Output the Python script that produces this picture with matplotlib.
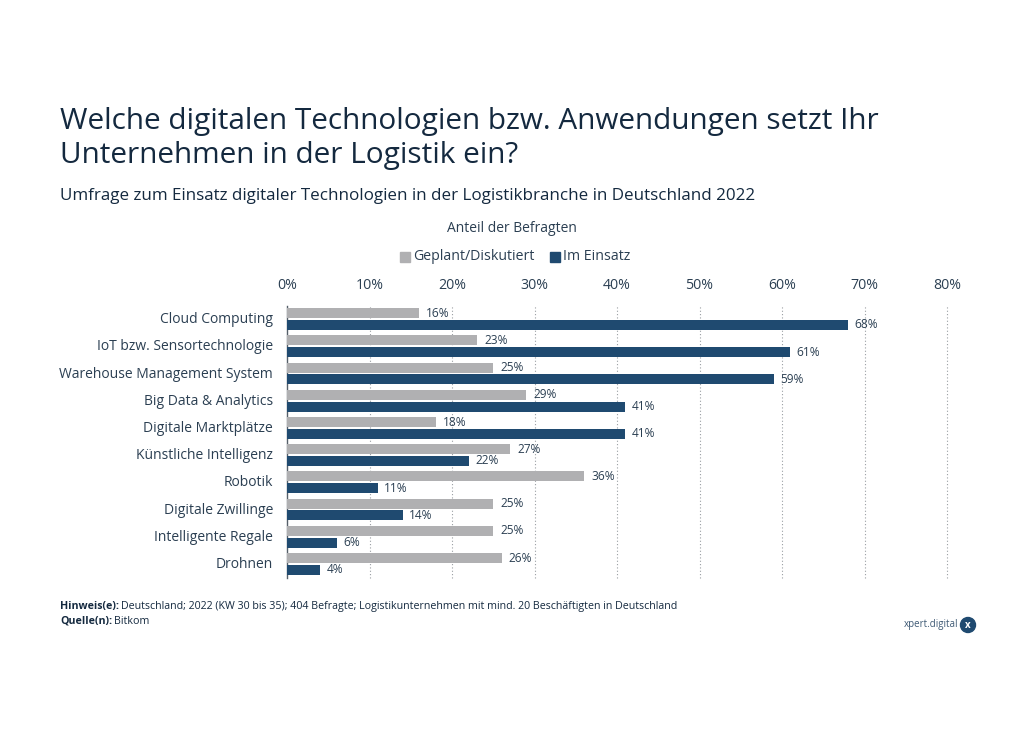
import matplotlib
matplotlib.use('Agg')
import matplotlib.pyplot as plt
from matplotlib.patches import Circle, Rectangle
from matplotlib.transforms import ScaledTranslation

plt.rcParams['font.family'] = ['Open Sans', 'DejaVu Sans']

categories = ['Cloud Computing', 'IoT bzw. Sensortechnologie', 'Warehouse Management System',
              'Big Data & Analytics', 'Digitale Marktplätze', 'Künstliche Intelligenz',
              'Robotik', 'Digitale Zwillinge', 'Intelligente Regale', 'Drohnen']
geplant = [16, 23, 25, 29, 18, 27, 36, 25, 25, 26]
im_einsatz = [68, 61, 59, 41, 41, 22, 11, 14, 6, 4]
xticks = [0, 10, 20, 30, 40, 50, 60, 70, 80]

W, H = 1024, 730
GRAY = '#b0b0b2'
NAVY = '#1f4a70'
DARK = '#14293f'
TEXT = '#2b3f52'

fig = plt.figure(figsize=(W / 100, H / 100), dpi=100, facecolor='white')
ax = fig.add_axes([287 / W, 1 - 577.5 / H, 660 / W, 272 / H])

ys = list(range(len(categories)))
off = 0.215
h = 0.365
ax.barh([y - off for y in ys], geplant, height=h, color=GRAY, zorder=3)
ax.barh([y + off for y in ys], im_einsatz, height=h, color=NAVY, zorder=3)

for y, a, b in zip(ys, geplant, im_einsatz):
    ax.annotate(f'{a}%', (a, y - off), xytext=(5.3, 0), textcoords='offset points', va='center',
                ha='left', fontsize=8.6, color=TEXT, zorder=4)
    ax.annotate(f'{b}%', (b, y + off), xytext=(4.7, 0), textcoords='offset points', va='center',
                ha='left', fontsize=8.6, color=TEXT, zorder=4)

ax.set_xlim(0, 80)
ax.set_ylim(9.5, -0.5)
ax.set_yticks(ys)
ax.set_yticklabels(categories, fontsize=10, color=TEXT)
ax.set_xticks(xticks)
ax.set_xticklabels([f'{x}%' for x in xticks], fontsize=10.2, color=TEXT)
ax.xaxis.tick_top()
ax.tick_params(axis='x', length=0, pad=9.2)
ax.tick_params(axis='y', length=0, pad=10)
shift = ScaledTranslation(0, 1.5 / 100, fig.dpi_scale_trans)
for lab in ax.get_yticklabels():
    lab.set_transform(lab.get_transform() + shift)
for s in ['top', 'right', 'bottom']:
    ax.spines[s].set_visible(False)
ax.spines['left'].set_color('#555f69')
ax.spines['left'].set_linewidth(1.0)
ax.set_axisbelow(True)
ax.grid(axis='x', color='#9a9ea3', linestyle=(0, (1, 2)), linewidth=0.8, zorder=0)
ax.grid(axis='y', visible=False)
for line in ax.xaxis.get_gridlines():
    line.set_clip_on(False)
ax.xaxis.get_gridlines()[0].set_visible(False)


def T(px, py, s, **kw):
    kw.setdefault('va', 'center')
    kw.setdefault('color', TEXT)
    return fig.text(px / W, 1 - py / H, s, **kw)


T(60, 121, 'Welche digitalen Technologien bzw. Anwendungen setzt Ihr', fontsize=21.4, color=DARK)
T(60, 155, 'Unternehmen in der Logistik ein?', fontsize=21.4, color=DARK)
T(60, 195.5, 'Umfrage zum Einsatz digitaler Technologien in der Logistikbranche in Deutschland 2022',
  fontsize=12.25, color=DARK)
T(512, 228, 'Anteil der Befragten', fontsize=10, ha='center')

fig.add_artist(Rectangle((400 / W, 1 - 262 / H), 10 / W, 10 / H, transform=fig.transFigure, color=GRAY))
T(413, 257, 'Geplant/Diskutiert', fontsize=10.2)
fig.add_artist(Rectangle((550 / W, 1 - 262 / H), 10 / W, 10 / H, transform=fig.transFigure, color=NAVY))
T(563, 257, 'Im Einsatz', fontsize=10.2)

T(60, 606, 'Hinweis(e):', fontsize=7.7, fontweight='bold', color=DARK)
T(121, 606, 'Deutschland; 2022 (KW 30 bis 35); 404 Befragte; Logistikunternehmen mit mind. 20 Beschäftigten in Deutschland',
  fontsize=7.7, color=DARK)
T(60, 621, 'Quelle(n):', fontsize=7.7, fontweight='bold', color=DARK)
T(114, 621, 'Bitkom', fontsize=7.7, color=DARK)

T(958, 625, 'xpert.digital', fontsize=7.0, ha='right', color='#3f5a75')
bx = fig.add_axes([0, 0, 1, 1], facecolor='none')
bx.set_xlim(0, W)
bx.set_ylim(H, 0)
bx.axis('off')
bx.add_patch(Circle((968, 625), 7.5, color=NAVY))
bx.text(968, 625, 'x', color='white', fontsize=7, ha='center', va='center', fontweight='bold')

fig.savefig('out.png', dpi=100, facecolor='white')
